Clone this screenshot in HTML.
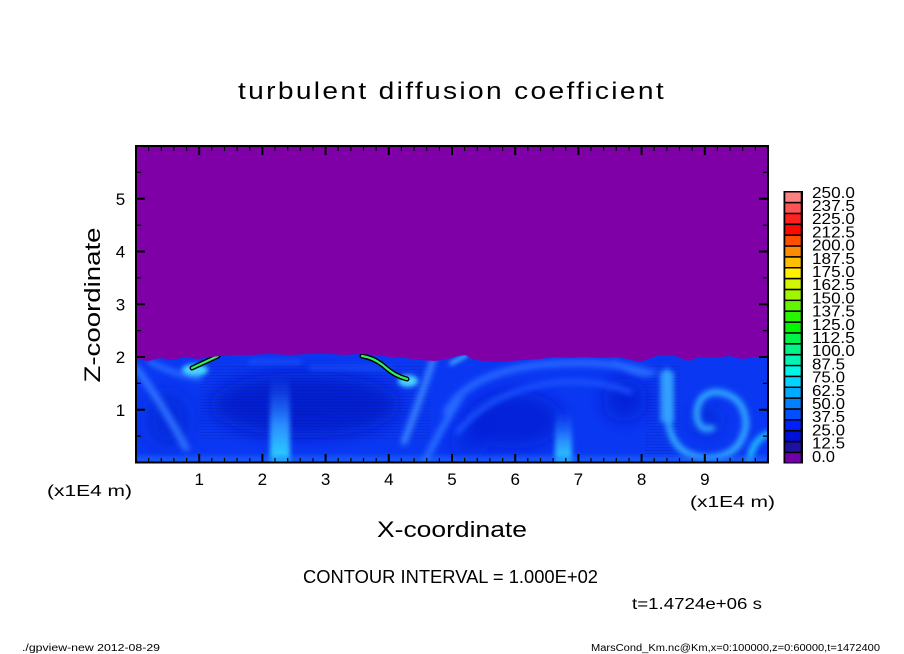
<!DOCTYPE html>
<html><head><meta charset="utf-8"><style>html,body{margin:0;padding:0;background:#fff}svg{display:block}</style></head><body>
<svg width="904" height="654" viewBox="0 0 904 654" xmlns="http://www.w3.org/2000/svg" font-family="'Liberation Sans', sans-serif">
<defs>
<clipPath id="c"><rect x="136" y="146" width="632" height="316.5"/></clipPath>
<filter id="b2" x="-50%" y="-50%" width="200%" height="200%"><feGaussianBlur stdDeviation="2.5"/></filter>
<filter id="b3" x="-50%" y="-50%" width="200%" height="200%"><feGaussianBlur stdDeviation="3"/></filter>
<filter id="b8" x="-50%" y="-50%" width="200%" height="200%"><feGaussianBlur stdDeviation="9"/></filter>
<linearGradient id="col" x1="0" y1="0" x2="0" y2="1"><stop offset="0" stop-color="#1a60ff" stop-opacity="0"/><stop offset="0.55" stop-color="#2a8cff"/><stop offset="1" stop-color="#28e0ff"/></linearGradient>
<pattern id="st" width="6" height="3" patternUnits="userSpaceOnUse"><rect width="6" height="1" fill="#000030" opacity=".1"/></pattern>
</defs>
<rect width="904" height="654" fill="#fff"/>
<g clip-path="url(#c)">
<rect x="136" y="146" width="632" height="317" fill="#0a38f2"/>
<g filter="url(#b8)">
<ellipse cx="305" cy="405" rx="95" ry="32" fill="#0814c0" opacity=".65"/>
<ellipse cx="168" cy="420" rx="22" ry="28" fill="#0a1ccc" opacity=".55"/>
<ellipse cx="515" cy="420" rx="48" ry="28" fill="#0816c8" opacity=".6"/>
<ellipse cx="625" cy="400" rx="22" ry="22" fill="#0816c8" opacity=".6"/>
<ellipse cx="706" cy="420" rx="14" ry="14" fill="#0a1cc8" opacity=".55"/>
<ellipse cx="470" cy="440" rx="20" ry="18" fill="#0a1cd0" opacity=".45"/>
</g>
<rect x="200" y="365" width="230" height="75" fill="url(#st)"/>
<rect x="645" y="365" width="35" height="95" fill="url(#st)"/>
<g filter="url(#b3)" fill="none" stroke-linecap="round">
<path d="M136,368 Q160,400 186,448" stroke="#2e72ff" stroke-width="7"/>
<path d="M150,362 Q175,375 200,378" stroke="#2a70ff" stroke-width="5"/>
<path d="M433,360 Q420,400 404,442" stroke="#3a86ff" stroke-width="6"/>
<path d="M460,398 Q440,430 424,463" stroke="#2a70ff" stroke-width="6"/>
<path d="M446,412 Q470,370 550,364 Q610,360 648,372" stroke="#2566ff" stroke-width="7"/>
<path d="M458,432 Q490,390 560,382 Q600,380 630,392" stroke="#1a54ff" stroke-width="5"/>
<path d="M667,372 L668,420 Q672,456 706,458 Q741,458 746,425 Q745,394 715,392 Q695,395 697,418 Q700,432 712,428" stroke="#34b0ff" stroke-width="6"/>
<path d="M749,463 Q752,440 768,434" stroke="#22c4ff" stroke-width="6"/>
<path d="M615,362 Q640,380 655,372" stroke="#2a70ff" stroke-width="4"/>
<path d="M250,362 L300,362 M310,368 L390,368" stroke="#1e5cff" stroke-width="3"/>
</g>
<g filter="url(#b2)">
<rect x="270" y="375" width="20" height="90" fill="url(#col)"/>
<rect x="555" y="410" width="17" height="55" fill="url(#col)"/>
<rect x="660" y="372" width="14" height="50" fill="#36a8ff" opacity=".7"/>
<ellipse cx="195" cy="370" rx="13" ry="6" fill="#46d4ff"/>
<ellipse cx="408" cy="381" rx="10" ry="6" fill="#46d4ff"/>
<path d="M450,364 L467,355" stroke="#58d0ff" stroke-width="3" fill="none"/>
<rect x="136" y="456" width="632" height="7" fill="#1e70ff" opacity=".6"/>
</g>
<path d="M192,368 L205,362 L218,356" stroke="#000" stroke-width="5" fill="none" stroke-linecap="round"/>
<path d="M192,368 L205,362 L218,356" stroke="#30f060" stroke-width="2.2" fill="none" stroke-linecap="round"/>
<path d="M362,356 Q375,358 385,367 Q395,376 407,379" stroke="#000" stroke-width="5" fill="none" stroke-linecap="round"/>
<path d="M362,356 Q375,358 385,367 Q395,376 407,379" stroke="#30f060" stroke-width="2.2" fill="none" stroke-linecap="round"/>
<polygon fill="#8000a8" points="136,146 768,146 768,358 755,357 742,359 730,356 715,358 700,357 688,361 675,356 660,355 648,359 640,362 628,359 615,357 600,358 585,357 570,358 555,357 540,359 525,360 510,361 495,362 482,361 472,359 466,355 458,356 448,359 435,361 420,360 405,358 390,357 375,355 360,354 345,355 330,354 310,354 290,355 270,354 250,355 235,355 222,356 210,357 198,359 185,357 172,360 160,358 148,361 136,359"/>
</g>
<rect x="136" y="146" width="632" height="316.5" fill="none" stroke="#000" stroke-width="2"/>
<path stroke="#000" stroke-width="1.2" fill="none" d="M148.6 462v-4M161.3 462v-4M173.9 462v-4M186.6 462v-4M211.8 462v-4M224.5 462v-4M237.1 462v-4M249.8 462v-4M275 462v-4M287.7 462v-4M300.3 462v-4M313 462v-4M338.2 462v-4M350.9 462v-4M363.5 462v-4M376.2 462v-4M401.4 462v-4M414.1 462v-4M426.7 462v-4M439.4 462v-4M464.6 462v-4M477.3 462v-4M489.9 462v-4M502.6 462v-4M527.8 462v-4M540.5 462v-4M553.1 462v-4M565.8 462v-4M591 462v-4M603.7 462v-4M616.3 462v-4M629 462v-4M654.2 462v-4M666.9 462v-4M679.5 462v-4M692.2 462v-4M717.4 462v-4M730.1 462v-4M742.7 462v-4M755.4 462v-4
M148.6 147v4M161.3 147v4M173.9 147v4M186.6 147v4M211.8 147v4M224.5 147v4M237.1 147v4M249.8 147v4M275 147v4M287.7 147v4M300.3 147v4M313 147v4M338.2 147v4M350.9 147v4M363.5 147v4M376.2 147v4M401.4 147v4M414.1 147v4M426.7 147v4M439.4 147v4M464.6 147v4M477.3 147v4M489.9 147v4M502.6 147v4M527.8 147v4M540.5 147v4M553.1 147v4M565.8 147v4M591 147v4M603.7 147v4M616.3 147v4M629 147v4M654.2 147v4M666.9 147v4M679.5 147v4M692.2 147v4M717.4 147v4M730.1 147v4M742.7 147v4M755.4 147v4
M137 436.1h4M137 383.4h4M137 330.6h4M137 277.9h4M137 225.1h4M137 172.4h4
M767 436.1h-4M767 383.4h-4M767 330.6h-4M767 277.9h-4M767 225.1h-4M767 172.4h-4"/>
<path stroke="#000" stroke-width="2" fill="none" d="M199.2 462v-8M262.4 462v-8M325.6 462v-8M388.8 462v-8M452 462v-8M515.2 462v-8M578.4 462v-8M641.6 462v-8M704.8 462v-8
M199.2 147v8M262.4 147v8M325.6 147v8M388.8 147v8M452 147v8M515.2 147v8M578.4 147v8M641.6 147v8M704.8 147v8
M137 409.75h8M137 357h8M137 304.25h8M137 251.5h8M137 198.75h8
M767 409.75h-8M767 357h-8M767 304.25h-8M767 251.5h-8M767 198.75h-8"/>
<g font-size="17" text-anchor="middle" fill="#000">
<text x="199.2" y="485">1</text><text x="262.4" y="485">2</text><text x="325.6" y="485">3</text><text x="388.8" y="485">4</text><text x="452" y="485">5</text><text x="515.2" y="485">6</text><text x="578.4" y="485">7</text><text x="641.6" y="485">8</text><text x="704.8" y="485">9</text>
<text x="120.5" y="415.8">1</text><text x="120.5" y="363">2</text><text x="120.5" y="310.3">3</text><text x="120.5" y="257.5">4</text><text x="120.5" y="204.8">5</text>
</g>
<text x="47" y="496" font-size="16" textLength="85" lengthAdjust="spacingAndGlyphs">(x1E4 m)</text>
<text x="690" y="507" font-size="16" textLength="85" lengthAdjust="spacingAndGlyphs">(x1E4 m)</text>
<text x="238" y="99" font-size="24" letter-spacing="2" textLength="428" lengthAdjust="spacingAndGlyphs">turbulent diffusion coefficient</text>
<text x="377" y="537" font-size="22" textLength="150" lengthAdjust="spacingAndGlyphs">X-coordinate</text>
<text transform="translate(100,305) rotate(-90)" x="0" y="0" font-size="22" text-anchor="middle" textLength="155" lengthAdjust="spacingAndGlyphs">Z-coordinate</text>
<text x="303" y="583" font-size="18" textLength="295" lengthAdjust="spacingAndGlyphs">CONTOUR INTERVAL = 1.000E+02</text>
<text x="632" y="609" font-size="16" textLength="130" lengthAdjust="spacingAndGlyphs">t=1.4724e+06 s</text>
<text x="22" y="651" font-size="10" textLength="138" lengthAdjust="spacingAndGlyphs">./gpview-new  2012-08-29</text>
<text x="591" y="651" font-size="10" textLength="289" lengthAdjust="spacingAndGlyphs">MarsCond_Km.nc@Km,x=0:100000,z=0:60000,t=1472400</text>
<rect x="783.5" y="191" width="19.5" height="272.5" fill="#000"/>
<g>
<rect x="785.3" y="192.5" width="15.4" height="9.3" fill="#ff8080"/>
<rect x="785.3" y="203.4" width="15.4" height="9.3" fill="#ff5454"/>
<rect x="785.3" y="214.2" width="15.4" height="9.3" fill="#ff2020"/>
<rect x="785.3" y="225.1" width="15.4" height="9.3" fill="#ff0a00"/>
<rect x="785.3" y="236.0" width="15.4" height="9.3" fill="#ff5000"/>
<rect x="785.3" y="246.8" width="15.4" height="9.3" fill="#ff8c00"/>
<rect x="785.3" y="257.7" width="15.4" height="9.3" fill="#ffbe00"/>
<rect x="785.3" y="268.5" width="15.4" height="9.3" fill="#fff000"/>
<rect x="785.3" y="279.4" width="15.4" height="9.3" fill="#d4f500"/>
<rect x="785.3" y="290.3" width="15.4" height="9.3" fill="#a0f500"/>
<rect x="785.3" y="301.1" width="15.4" height="9.3" fill="#64f500"/>
<rect x="785.3" y="312.0" width="15.4" height="9.3" fill="#28f500"/>
<rect x="785.3" y="322.9" width="15.4" height="9.3" fill="#00f500"/>
<rect x="785.3" y="333.7" width="15.4" height="9.3" fill="#00f548"/>
<rect x="785.3" y="344.6" width="15.4" height="9.3" fill="#00f584"/>
<rect x="785.3" y="355.5" width="15.4" height="9.3" fill="#00f5b4"/>
<rect x="785.3" y="366.3" width="15.4" height="9.3" fill="#00f5e6"/>
<rect x="785.3" y="377.2" width="15.4" height="9.3" fill="#00d4ff"/>
<rect x="785.3" y="388.0" width="15.4" height="9.3" fill="#00aaff"/>
<rect x="785.3" y="398.9" width="15.4" height="9.3" fill="#0082ff"/>
<rect x="785.3" y="409.8" width="15.4" height="9.3" fill="#0050ff"/>
<rect x="785.3" y="420.6" width="15.4" height="9.3" fill="#0020ff"/>
<rect x="785.3" y="431.5" width="15.4" height="9.3" fill="#0010d8"/>
<rect x="785.3" y="442.4" width="15.4" height="9.3" fill="#2010a0"/>
<rect x="785.3" y="453.2" width="15.4" height="9.3" fill="#7000a8"/>
</g>
<g font-size="16" fill="#000">
<text x="812" y="197.8" textLength="43" lengthAdjust="spacingAndGlyphs">250.0</text>
<text x="812" y="211.0" textLength="43" lengthAdjust="spacingAndGlyphs">237.5</text>
<text x="812" y="224.2" textLength="43" lengthAdjust="spacingAndGlyphs">225.0</text>
<text x="812" y="237.4" textLength="43" lengthAdjust="spacingAndGlyphs">212.5</text>
<text x="812" y="250.6" textLength="43" lengthAdjust="spacingAndGlyphs">200.0</text>
<text x="812" y="263.8" textLength="43" lengthAdjust="spacingAndGlyphs">187.5</text>
<text x="812" y="277.0" textLength="43" lengthAdjust="spacingAndGlyphs">175.0</text>
<text x="812" y="290.2" textLength="43" lengthAdjust="spacingAndGlyphs">162.5</text>
<text x="812" y="303.4" textLength="43" lengthAdjust="spacingAndGlyphs">150.0</text>
<text x="812" y="316.6" textLength="43" lengthAdjust="spacingAndGlyphs">137.5</text>
<text x="812" y="329.8" textLength="43" lengthAdjust="spacingAndGlyphs">125.0</text>
<text x="812" y="343.0" textLength="43" lengthAdjust="spacingAndGlyphs">112.5</text>
<text x="812" y="356.2" textLength="43" lengthAdjust="spacingAndGlyphs">100.0</text>
<text x="812" y="369.4" textLength="33" lengthAdjust="spacingAndGlyphs">87.5</text>
<text x="812" y="382.6" textLength="33" lengthAdjust="spacingAndGlyphs">75.0</text>
<text x="812" y="395.8" textLength="33" lengthAdjust="spacingAndGlyphs">62.5</text>
<text x="812" y="409.0" textLength="33" lengthAdjust="spacingAndGlyphs">50.0</text>
<text x="812" y="422.2" textLength="33" lengthAdjust="spacingAndGlyphs">37.5</text>
<text x="812" y="435.4" textLength="33" lengthAdjust="spacingAndGlyphs">25.0</text>
<text x="812" y="448.6" textLength="33" lengthAdjust="spacingAndGlyphs">12.5</text>
<text x="812" y="461.8" textLength="23" lengthAdjust="spacingAndGlyphs">0.0</text>
</g>
</svg>
</body></html>
